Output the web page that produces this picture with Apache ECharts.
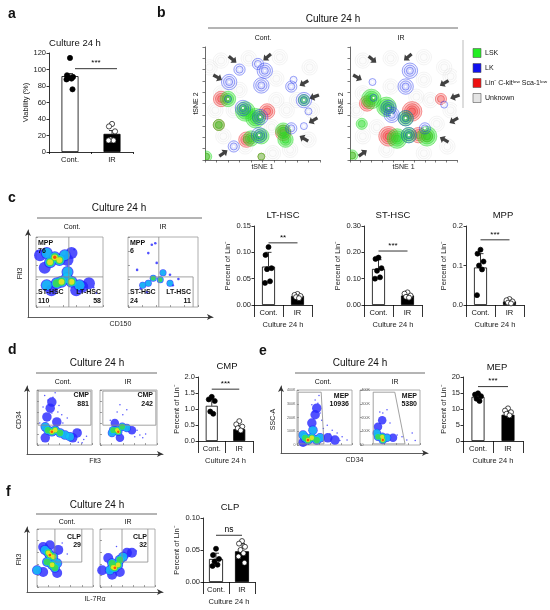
<!DOCTYPE html>
<html>
<head>
<meta charset="utf-8">
<script src="https://cdn.jsdelivr.net/npm/echarts@6/dist/echarts.min.js"></script>
<style>
  html, body { margin: 0; padding: 0; background: #fff; }
  #main { width: 550px; height: 610px; }
</style>
</head>
<body>
<div id="main"></div>
<script>
// ---------- data ----------
var groups = ['Cont.', 'IR'];

// a: viability
var viabMean = [92, 22], viabSd = [3, 4];
var viabCont = [114, 93, 91, 90, 89, 88, 76];
var viabIR = [34, 31, 25, 15, 14, 14];
var viabSig = 101;

// c: LT-HSC / ST-HSC / MPP (percent of Lin-)
var ltMean = [0.073, 0.017], ltSd = [0.027, 0.003];
var ltCont = [0.110, 0.095, 0.070, 0.068, 0.045, 0.042];
var ltIR = [0.021, 0.019, 0.017, 0.015, 0.013];
var ltSig = 0.118;
var stMean = [0.137, 0.036], stSd = [0.035, 0.006];
var stCont = [0.180, 0.175, 0.140, 0.130, 0.105, 0.100];
var stIR = [0.048, 0.043, 0.036, 0.031, 0.028];
var stSig = 0.205;
var mppMean = [0.095, 0.009], mppSd = [0.035, 0.005];
var mppCont = [0.140, 0.130, 0.110, 0.100, 0.090, 0.025];
var mppIR = [0.015, 0.012, 0.009, 0.006, 0.004];
var mppSig = 0.165;

// d: CMP
var cmpMean = [1.10, 0.37], cmpSd = [0.20, 0.10];
var cmpCont = [1.38, 1.30, 1.25, 0.92, 0.85];
var cmpIR = [0.62, 0.52, 0.45, 0.40, 0.33];
var cmpSig = 1.62;

// e: MEP
var mepMean = [13.8, 8.2], mepSd = [0.9, 1.0];
var mepCont = [14.9, 14.5, 14.0, 13.2, 12.5];
var mepIR = [10.2, 9.5, 9.0, 8.5, 8.0];
var mepSig = 17.0;

// f: CLP
var clpMean = [0.036, 0.048], clpSd = [0.009, 0.012];
var clpCont = [0.052, 0.042, 0.036, 0.032, 0.027, 0.025];
var clpIR = [0.064, 0.060, 0.055, 0.050, 0.045, 0.040, 0.030];
var clpSig = 0.073;

// flow plots: density peaks [x, y, level 1..5] and single events [x, y], axes 0..100
var cContBlobs = [[6,74,1],[13,56,1],[53,77,1],[47,67,1],[16,77,2],[43,74,2],[21,64,4],[35,67,4],[28,71,5],
  [47,50,2],[46,41,2],[69,29,1],[79,34,1],[23,24,1],[60,24,1],[16,31,2],[65,31,2],[31,34,3],[38,36,4],[53,36,4]];
var cContDots = [[2,80],[57,82],[86,28],[90,20]];
var cIRBlobs = [[36,41,3],[46,39,3],[29,34,2],[21,31,2],[60,34,2],[50,49,2]];
var cIRDots = [[34,89],[39,91],[29,77],[41,63],[13,53],[60,46],[64,31],[27,21],[72,40],[18,26]];
var cContGates = [[[49,0],[49,100]], [[0,43],[100,43]]];
var cIRGates = [[[44,0],[44,100]], [[0,43],[93,43],[93,0]]];

var dContBlobs = [[18,51,1],[24,67,1],[27,78,1],[36,42,1],[65,13,1],[15,13,1],[73,22,1],
  [15,33,2],[51,18,2],[60,15,2],[20,27,3],[42,22,3],[33,27,4],[27,24,5]];
var dContDots = [[29,87],[38,60],[45,55],[11,69],[20,82],[47,40],[75,5],[78,27],[5,40],[55,49],[33,95],[27,58],
  [85,10],[90,16],[82,4],[14,90],[40,72]];
var dIRBlobs = [[26,40,1],[56,27,1],[35,13,1],[21,22,2],[47,31,2],[23,27,3],[39,33,3],[30,27,4],[32,24,5]];
var dIRDots = [[30,60],[35,73],[40,55],[65,27],[70,18],[75,13],[61,15],[18,45],[47,64],[80,20]];
var dContGates = [[[2,36],[2,98],[98,98],[98,36],[2,36]]];
var dIRGates = [[[5,36],[5,98],[98,98],[98,36],[5,36]]];

var eContBlobs = [[27,40,1],[33,55,1],[36,67,1],[56,13,1],[69,9,1],[11,5,1],
  [11,18,2],[42,13,2],[29,27,2],[15,13,3],[36,9,3],[27,13,4],[20,9,5]];
var eContDots = [[33,82],[38,76],[29,60],[45,45],[55,36],[64,27],[73,22],[82,15],[91,9],[42,58],[27,73],
  [40,90],[48,30],[60,20],[78,8]];
var eIRBlobs = [[30,33,1],[37,45,1],[55,13,1],[28,22,2],[45,13,2],[30,15,3],[37,15,4],[38,9,5]];
var eIRDots = [[38,58],[45,64],[50,40],[62,18],[70,15],[78,9],[87,22],[33,60],[92,8]];
var eContGates = [[[2,2],[2,96],[44,96],[49,2],[2,2]]];
var eIRGates = [[[22,2],[22,96],[58,96],[75,2],[22,2]]];
var eTickK = [0, 100, 200, 300, 400];

var fContBlobs = [[11,69,1],[38,64,1],[11,26,1],[36,24,1],[23,72,1],[14,64,2],[36,41,2],[0,29,2],
  [18,43,3],[32,33,3],[20,59,4],[29,52,4],[27,38,4],[23,55,5]];
var fContDots = [[54,57],[45,76]];
var fIRBlobs = [[15,50,1],[49,59,1],[22,21,1],[36,26,1],[58,59,1],[4,29,1],
  [18,29,2],[42,52,2],[22,41,3],[36,47,3],[24,34,4],[33,38,4],[27,33,5]];
var fIRDots = [[66,62],[30,70]];
var fContGates = [[[32,43],[32,100]], [[32,43],[80,43],[80,100]]];
var fIRGates = [[[40,43],[40,100]], [[40,43],[87,43],[87,100]]];

// b: tSNE clusters [x, y, population, rings]; population 0 LSK, 1 LK, 2 Lin- c-kit low Sca-1 low
var tsneContClusters = [[30,80,1,2],[21,69,1,3],[46,85,1,2],[52,79,1,3],[49,66,1,3],[75,65,1,2],[77,71,1,1],
  [86,53,1,3],[86,53,0,2],[90,43,1,1],[14,54,2,3],[20,54,0,3],[20,54,1,1],[35,43,0,4],[33,46,1,3],
  [44,37,0,4],[48,38,1,3],[54,43,2,3],[12,31,2,2],[12,31,0,2],[36,18,2,3],[40,19,0,3],[49,21,0,3],
  [47,22,1,3],[68,24,2,3],[68,26,0,3],[70,18,0,3],[75,28,1,2],[86,30,1,1],[25,12,1,2],[49,3,0,1],
  [49,3,2,1],[1,3,0,2],[1,3,2,1]];
var tsneIRClusters = [[21,69,1,1],[56,79,1,3],[52,65,1,3],[85,54,2,2],[88,49,1,1],[16,50,2,3],[20,54,0,4],
  [22,55,1,1],[34,47,0,4],[36,46,1,3],[39,40,1,3],[52,37,1,3],[52,37,0,3],[58,43,2,4],[11,32,0,2],
  [36,21,2,4],[44,19,0,4],[55,22,1,3],[55,22,0,3],[64,22,2,3],[70,28,1,2],[72,21,0,4],[72,21,2,2],
  [2,4,0,2],[2,4,2,1]];
var tsneContUnknown = [[14,59],[9,44],[16,21],[35,12],[59,6],[74,9],[90,18],[93,44],[91,82],[65,91],
  [38,90],[14,88],[62,72],[62,53],[30,62],[25,44],[71,44],[58,29],[80,53],[4,82]];
var tsneIRUnknown = [[12,59],[6,44],[12,21],[34,9],[69,6],[91,12],[94,44],[88,82],[69,91],[38,90],
  [12,88],[69,71],[75,53],[38,65],[25,29],[81,32],[62,56],[94,74]];
// arrows [x, y, direction in degrees]
var tsneContArrows = [[24,89,-40],[54,91,-140],[11,73,-30],[86,68,-150],[95,56,-160],[94,35,-150],[86,19,150],[16,6,35]];
var tsneIRArrows = [[21,89,-40],[54,91,-140],[7,73,-30],[88,68,-150],[98,56,-160],[97,35,-150],[88,18,150],[12,6,35]];

var popNames = ['LSK', 'LK', 'Lin\u207B C-kit\u02E1\u1D52\u02B7 Sca-1\u02E1\u1D52\u02B7', 'Unknown'];

// ---------- styling ----------
var FONT = '"Liberation Sans", Arial, Helvetica, sans-serif';
var LEVEL_COLORS = ['#2626ff', '#12c8f4', '#3ee03e', '#ffe81a', '#ff2a00'];
var POP_COLORS = ['#22dd22', '#2a3aee', '#ee2a2a', '#cccccc'];
var LEGEND_FILL = ['#22ee22', '#1010ee', '#ee1010', '#e4e4e4'];

function rgba(hex, a) {
  var n = parseInt(hex.slice(1), 16);
  return 'rgba(' + (n >> 16 & 255) + ',' + (n >> 8 & 255) + ',' + (n & 255) + ',' + a + ')';
}

var grids = [], xAxes = [], yAxes = [], series = [], graphics = [];

function addGrid(g, x, y) {
  grids.push(g);
  var i = grids.length - 1;
  x.gridIndex = i; y.gridIndex = i;
  xAxes.push(x); yAxes.push(y);
  return i;
}
function S(o, i) {
  o.xAxisIndex = i; o.yAxisIndex = i;
  o.animation = false; o.silent = true;
  series.push(o);
}
function T(x, y, text, size, o) {
  o = o || {};
  graphics.push({
    type: 'text', x: x, y: y, z: 100, rotation: o.rot || 0, silent: true,
    style: {
      text: text, fill: o.color || '#111', fontSize: size, fontFamily: FONT,
      fontWeight: o.bold ? 'bold' : 'normal',
      align: o.align || 'center', textAlign: o.align || 'center',
      verticalAlign: 'middle', textVerticalAlign: 'middle'
    }
  });
}
function L(x1, y1, x2, y2, c) {
  graphics.push({ type: 'line', z: 100, silent: true, shape: { x1: x1, y1: y1, x2: x2, y2: y2 },
    style: { stroke: c || '#444', lineWidth: 0.8 } });
}

// ---------- bar + dot panels ----------
var JITTER = [0, -3, 3, -1.5, 1.5, -3.5, 2.5];

function barPanel(box, yc, mean, sd, cont, ir, sig, sigText, p) {
  var txt = { fontSize: 7.5, color: '#222', fontFamily: FONT };
  var i = addGrid({ left: box[0], top: box[1], width: box[2], height: box[3] },
    {
      type: 'category', data: groups,
      axisLine: { lineStyle: { color: '#000', width: 0.8 } },
      axisTick: p.table ? { show: true, length: 12, lineStyle: { color: '#000', width: 0.8 } }
                        : { show: true, length: 2, lineStyle: { color: '#000', width: 0.8 } },
      axisLabel: { fontSize: 7.5, color: '#111', fontFamily: FONT, margin: 4 },
      name: p.table ? 'Culture 24 h' : '', nameLocation: 'middle', nameGap: 16,
      nameTextStyle: txt
    },
    {
      type: 'value', min: yc[0], max: yc[1], interval: yc[2],
      axisLine: { show: true, lineStyle: { color: '#000', width: 0.8 } },
      axisTick: { show: true, length: 2.5, lineStyle: { color: '#000', width: 0.8 } },
      splitLine: { show: false },
      axisLabel: { fontSize: 7.5, color: '#222', fontFamily: FONT, margin: 3,
        formatter: function (v) { return v.toFixed(yc[3]); } },
      name: p.yName, nameLocation: 'middle', nameGap: p.nameGap, nameTextStyle: txt
    });
  S({ type: 'bar', barWidth: p.barWidth, z: 2,
    data: [
      { value: mean[0], itemStyle: { color: '#fff', borderColor: '#000', borderWidth: 0.8 } },
      { value: mean[1], itemStyle: { color: '#000', borderColor: '#000', borderWidth: 0.8 } }
    ] }, i);
  S({ type: 'custom', z: 3, data: [[0, mean[0], sd[0]], [1, mean[1], sd[1]]],
    renderItem: function (params, api) {
      var a = api.coord([api.value(0), api.value(1)]);
      var b = api.coord([api.value(0), api.value(1) + api.value(2)]);
      return { type: 'group', children: [
        { type: 'line', shape: { x1: a[0], y1: a[1], x2: b[0], y2: b[1] }, style: { stroke: '#000', lineWidth: 0.8 } },
        { type: 'line', shape: { x1: b[0] - 3, y1: b[1], x2: b[0] + 3, y2: b[1] }, style: { stroke: '#000', lineWidth: 0.8 } }
      ] };
    } }, i);
  [cont, ir].forEach(function (vals, g) {
    S({ type: 'custom', z: 4, data: vals.map(function (v) { return [g, v]; }),
      renderItem: function (params, api) {
        var c = api.coord([api.value(0), api.value(1)]);
        return { type: 'circle', shape: { cx: c[0] + JITTER[params.dataIndex % JITTER.length], cy: c[1], r: p.r },
          style: { fill: g === 0 ? '#000' : '#fff', stroke: '#000', lineWidth: 0.7 } };
      } }, i);
  });
  S({ type: 'custom', z: 4, data: [[0, sig]],
    renderItem: function (params, api) {
      var a = api.coord([0, api.value(1)]), b = api.coord([1, api.value(1)]);
      return { type: 'group', children: [
        { type: 'line', shape: { x1: a[0] + p.sigPad, y1: a[1], x2: b[0] + p.sigPad, y2: b[1] }, style: { stroke: '#000', lineWidth: 0.8 } },
        { type: 'text', x: (a[0] + b[0]) / 2 + p.sigPad, y: a[1] - 1.5,
          style: { text: sigText, fontSize: sigText === 'ns' ? 8.5 : 8, fontFamily: FONT, fill: '#000',
            align: 'center', verticalAlign: 'bottom', textAlign: 'center', textVerticalAlign: 'bottom' } }
      ] };
    } }, i);
}

// ---------- flow density panels ----------
var LEVEL_SCALE = [1, 0.84, 0.66, 0.48, 0.28];

function flowPanel(box, blobs, dots, gates, p) {
  var tick = { show: true, inside: true, length: 2, lineStyle: { color: '#666', width: 0.6 } };
  var i = addGrid({ left: box[0], top: box[1], width: box[2], height: box[3], show: true,
      borderColor: '#9a9a9a', borderWidth: 0.8, backgroundColor: '#fff' },
    { type: 'value', min: 0, max: 100, interval: 20, axisLine: { show: false }, axisTick: tick,
      axisLabel: { show: false }, splitLine: { show: false } },
    { type: 'value', min: 0, max: 100, interval: p.kTicks ? 25 : 20, axisLine: { show: false }, axisTick: tick,
      splitLine: { show: false },
      axisLabel: p.kTicks ? { show: true, fontSize: 3.6, color: '#555', margin: 1.5, inside: !!p.labelsInside,
        formatter: function (v) { var k = eTickK[Math.round(v / 25)]; return k ? k + 'K' : '0'; } } : { show: false } });
  S({ type: 'scatter', data: dots, symbolSize: p.dot, itemStyle: { color: '#2626ff' }, z: 2, clip: true }, i);
  for (var lv = 1; lv <= 5; lv++) {
    S({ type: 'scatter', clip: true, z: 2 + lv,
      data: blobs.filter(function (b) { return b[2] >= lv; }).map(function (b) { return [b[0], b[1]]; }),
      symbolSize: p.base * LEVEL_SCALE[lv - 1],
      itemStyle: { color: LEVEL_COLORS[lv - 1] } }, i);
  }
  gates.forEach(function (g) {
    S({ type: 'line', data: g, showSymbol: false, z: 9, lineStyle: { color: '#8a8a8a', width: 0.8 } }, i);
  });
}

function arrowAxes(box, xName, yName) {
  var line = { show: true, onZero: false, symbol: ['none', 'arrow'], symbolSize: [4.5, 6],
    lineStyle: { color: '#333', width: 0.8 } };
  var nt = { fontSize: 7, color: '#222', fontFamily: FONT };
  addGrid({ left: box[0], top: box[1], width: box[2], height: box[3] },
    { type: 'value', min: 0, max: 1, axisLine: line, axisTick: { show: false }, axisLabel: { show: false },
      splitLine: { show: false }, name: xName, nameLocation: 'middle', nameGap: 4, nameTextStyle: nt },
    { type: 'value', min: 0, max: 1, axisLine: line, axisTick: { show: false }, axisLabel: { show: false },
      splitLine: { show: false }, name: yName, nameLocation: 'middle', nameGap: 4, nameTextStyle: nt });
}

// ---------- tSNE panels ----------
function ringSeries(i, items, pop) {
  var col = POP_COLORS[pop];
  var fillA = [0.4, 0.08, 0.28, 0.05][pop];
  S({ type: 'custom', clip: true, z: 3 + [1, 3, 0, -1][pop],
    data: items,
    renderItem: function (params, api) {
      var c = api.coord([api.value(0), api.value(1)]);
      var n = api.value(2), kids = [];
      for (var k = n; k >= 1; k--) {
        kids.push({ type: 'circle', shape: { cx: c[0], cy: c[1], r: 1.4 + k * 2.1 },
          style: { fill: rgba(col, fillA), stroke: col,
            lineWidth: pop === 3 ? 0.5 : 0.55, opacity: pop === 3 ? 0.45 : 0.85 } });
      }
      if (pop === 1) kids.push({ type: 'circle', shape: { cx: c[0], cy: c[1], r: 1.1 }, style: { fill: '#fff' } });
      return { type: 'group', children: kids };
    } }, i);
}

function tsnePanel(box, clusters, unknown, arrows) {
  var line = { show: true, onZero: false, lineStyle: { color: '#444', width: 0.8 } };
  var tick = { show: true, length: 2.5, lineStyle: { color: '#444', width: 0.7 } };
  var nt = { fontSize: 7, color: '#222', fontFamily: FONT };
  var i = addGrid({ left: box[0], top: box[1], width: box[2], height: box[3] },
    { type: 'value', min: 0, max: 100, interval: 10, axisLine: line, axisTick: tick, axisLabel: { show: false },
      splitLine: { show: false }, name: 'tSNE 1', nameLocation: 'middle', nameGap: 4, nameTextStyle: nt },
    { type: 'value', min: 0, max: 100, interval: 10, axisLine: line, axisTick: tick, axisLabel: { show: false },
      splitLine: { show: false }, name: 'tSNE 2', nameLocation: 'middle', nameGap: 5, nameTextStyle: nt });
  ringSeries(i, unknown.map(function (u) { return [u[0], u[1], 3]; }), 3);
  [2, 0, 1].forEach(function (pop) {
    ringSeries(i, clusters.filter(function (c) { return c[2] === pop; })
      .map(function (c) { return [c[0], c[1], c[3]]; }), pop);
  });
  S({ type: 'scatter', z: 10, clip: false,
    symbol: 'path://M0,3L6,3L6,0L11,5L6,10L6,7L0,7Z', symbolSize: [10, 8],
    itemStyle: { color: '#111' },
    data: arrows.map(function (a) { return { value: [a[0], a[1]], symbolRotate: a[2] }; }) }, i);
}

// ---------- build panels ----------
// a
barPanel([49, 53, 84, 99], [0, 120, 20, 0], viabMean, viabSd, viabCont, viabIR, viabSig, '***',
  { yName: 'Viability (%)', nameGap: 16, barWidth: 17, r: 2.6, table: false, sigPad: 5 });

// b
tsnePanel([205, 47, 115, 113], tsneContClusters, tsneContUnknown, tsneContArrows);
tsnePanel([350, 47, 107, 113], tsneIRClusters, tsneIRUnknown, tsneIRArrows);

// c
arrowAxes([28, 230, 185, 87], 'CD150', 'Flt3');
flowPanel([36, 237, 67, 70], cContBlobs, cContDots, cContGates, { base: 12, dot: 2 });
flowPanel([128, 237, 70, 70], cIRBlobs, cIRDots, cIRGates, { base: 7, dot: 2.6 });
barPanel([254, 226, 58, 79], [0, 0.15, 0.05, 2], ltMean, ltSd, ltCont, ltIR, ltSig, '**',
  { yName: 'Percent of Lin\u207B', nameGap: 22, barWidth: 13, r: 2.5, table: true, sigPad: 0 });
barPanel([364, 226, 58, 79], [0, 0.30, 0.10, 2], stMean, stSd, stCont, stIR, stSig, '***',
  { yName: 'Percent of Lin\u207B', nameGap: 22, barWidth: 13, r: 2.5, table: true, sigPad: 0 });
barPanel([466, 226, 58, 79], [0, 0.2, 0.1, 1], mppMean, mppSd, mppCont, mppIR, mppSig, '***',
  { yName: 'Percent of Lin\u207B', nameGap: 18, barWidth: 13, r: 2.5, table: true, sigPad: 0 });

// d
arrowAxes([27, 386, 136, 68], 'Flt3', 'CD34');
flowPanel([37, 390, 55, 55], dContBlobs, dContDots, dContGates, { base: 9.5, dot: 1.5 });
flowPanel([100, 390, 57, 55], dIRBlobs, dIRDots, dIRGates, { base: 8.5, dot: 1.5 });
barPanel([198, 377, 55, 64], [0, 2, 0.5, 1], cmpMean, cmpSd, cmpCont, cmpIR, cmpSig, '***',
  { yName: 'Percent of Lin\u207B', nameGap: 17, barWidth: 12, r: 2.5, table: true, sigPad: 0 });

// e
arrowAxes([281, 386, 147, 67], 'CD34', 'SSC-A');
flowPanel([297, 390, 55, 55], eContBlobs, eContDots, eContGates, { base: 9.5, dot: 1.5, kTicks: true });
flowPanel([360, 390, 60, 55], eIRBlobs, eIRDots, eIRGates, { base: 8.5, dot: 1.5, kTicks: true, labelsInside: true });
barPanel([463, 377, 60, 64], [0, 20, 5, 0], mepMean, mepSd, mepCont, mepIR, mepSig, '***',
  { yName: 'Percent of Lin\u207B', nameGap: 13, barWidth: 13, r: 2.5, table: true, sigPad: 0 });

// f
arrowAxes([27, 527, 136, 65], 'IL-7R\u03B1', 'Flt3');
flowPanel([37, 529, 56, 58], fContBlobs, fContDots, fContGates, { base: 10, dot: 1.5 });
flowPanel([100, 529, 55, 58], fIRBlobs, fIRDots, fIRGates, { base: 10, dot: 1.5 });
barPanel([203, 518, 52, 64], [0, 0.10, 0.05, 2], clpMean, clpSd, clpCont, clpIR, clpSig, 'ns',
  { yName: 'Percent of Lin\u207B', nameGap: 22, barWidth: 14, r: 2.5, table: true, sigPad: 0 });

// ---------- texts ----------
T(8, 14, 'a', 14, { bold: true, align: 'left' });
T(157, 13, 'b', 14, { bold: true, align: 'left' });
T(8, 198, 'c', 14, { bold: true, align: 'left' });
T(8, 350, 'd', 14, { bold: true, align: 'left' });
T(259, 351, 'e', 14, { bold: true, align: 'left' });
T(6, 492, 'f', 14, { bold: true, align: 'left' });

T(75, 43, 'Culture 24 h', 9.5);

T(333, 19, 'Culture 24 h', 10); L(208, 28, 458, 28);
T(263, 38, 'Cont.', 7); T(401, 38, 'IR', 7);

T(119, 208, 'Culture 24 h', 10); L(37, 218, 202, 218);
T(72, 227, 'Cont.', 7); T(163, 227, 'IR', 7);
T(283, 215, 'LT-HSC', 9.5); T(393, 215, 'ST-HSC', 9.5); T(503, 215, 'MPP', 9.5);

T(97, 363, 'Culture 24 h', 10); L(36, 373, 157, 373);
T(63, 382, 'Cont.', 7); T(128, 382, 'IR', 7); T(227, 366, 'CMP', 9.5);

T(360, 363, 'Culture 24 h', 10); L(295, 373, 425, 373);
T(323, 382, 'Cont.', 7); T(395, 382, 'IR', 7); T(497, 367, 'MEP', 9.5);

T(97, 505, 'Culture 24 h', 10); L(36, 514, 157, 514);
T(67, 522, 'Cont.', 7); T(128, 522, 'IR', 7); T(230, 507, 'CLP', 9.5);

// gate labels
var gb = { bold: true, align: 'left' }, gr = { bold: true, align: 'right' };
T(38, 243, 'MPP', 7, gb); T(38, 251, '76', 7, gb);
T(130, 243, 'MPP', 7, gb); T(130, 251, '6', 7, gb);
T(38, 292, 'ST-HSC', 7, gb); T(38, 301, '110', 7, gb);
T(130, 292, 'ST-HSC', 7, gb); T(130, 301, '24', 7, gb);
T(101, 292, 'LT-HSC', 7, gr); T(101, 301, '58', 7, gr);
T(191, 292, 'LT-HSC', 7, gr); T(191, 301, '11', 7, gr);
T(89, 395, 'CMP', 7, gr); T(89, 404, '881', 7, gr);
T(153, 395, 'CMP', 7, gr); T(153, 404, '242', 7, gr);
T(349, 396, 'MEP', 7, gr); T(349, 404, '10936', 7, gr);
T(417, 396, 'MEP', 7, gr); T(417, 404, '5380', 7, gr);
T(81, 537, 'CLP', 7, gr); T(81, 545, '29', 7, gr);
T(147, 537, 'CLP', 7, gr); T(147, 545, '32', 7, gr);

// tSNE legend
L(463, 40, 463, 108, '#aaa');
popNames.forEach(function (n, k) {
  graphics.push({ type: 'rect', z: 100, silent: true, shape: { x: 473, y: 48.5 + k * 15, width: 8, height: 9 },
    style: { fill: LEGEND_FILL[k], stroke: '#555', lineWidth: 0.6 } });
  T(485, 53 + k * 15, n, 7, { align: 'left' });
});

var chart = echarts.init(document.getElementById('main'));
chart.setOption({
  animation: false,
  backgroundColor: '#fff',
  textStyle: { fontFamily: FONT },
  grid: grids,
  xAxis: xAxes,
  yAxis: yAxes,
  series: series,
  graphic: { elements: graphics }
});
</script>
</body>
</html>
